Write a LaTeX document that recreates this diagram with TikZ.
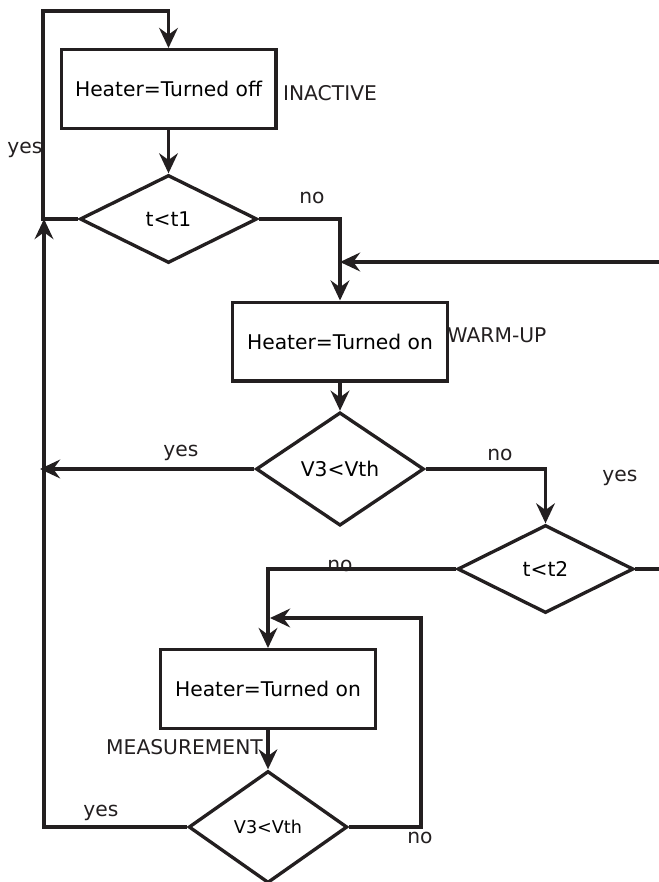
\documentclass[tikz,border=0pt]{standalone}
\usepackage{fontspec}
\setmainfont{DejaVu Sans}
\usetikzlibrary{shapes.geometric,arrows.meta}
\definecolor{ink}{RGB}{35,31,32}
\tikzset{
  proc/.style={draw=ink,line width=2.5pt,rectangle,minimum width=161pt,minimum height=59pt,inner sep=0pt},
  test/.style={draw=ink,line width=2.5pt,diamond,inner sep=0pt},
  arr/.style={draw=ink,line width=2.5pt,-{Stealth[length=15pt,width=14pt,inset=5pt]}},
  lbl/.style={text=ink,inner sep=0pt}
}
\begin{document}
\begin{tikzpicture}[x=0.75pt,y=-0.75pt,font=\fontsize{15.2}{18}\selectfont]
\clip (0,0) rectangle (659,882);

% boxes
\node[proc] (off) at (168.5,89) {Heater=Turned off};
\node[proc] (warm) at (340,341.5) {Heater=Turned on};
\node[proc] (meas) at (268,689) {Heater=Turned on};

% tests
\node[test,minimum width=133pt,minimum height=66pt] (t1) at (168.5,219) {t<t1};
\node[test,minimum width=126pt,minimum height=85pt] (v1) at (340,469) {V3<Vth};
\node[test,minimum width=132pt,minimum height=66pt] (t2) at (545.5,569) {t<t2};
\node[test,minimum width=119pt,minimum height=84pt,font=\fontsize{13.2}{16}\selectfont] (v2) at (268,827) {V3<Vth};

% state names
\node[lbl] (inactive) at (330,93) {INACTIVE};
\node[lbl] (warmup) at (497,335) {WARM-UP};
\node[lbl] (measure) at (184.5,747) {MEASUREMENT};

% turning points
\coordinate (topleft) at (43,11);
\coordinate (back1) at (340,262);
\coordinate (back0) at (44,219);
\coordinate (left1) at (40,469);
\coordinate (right1) at (680,569);
\coordinate (loopr) at (421,618);
\coordinate (back2) at (270,618);

% connectors
\draw[arr] (t1.west) -| (topleft) -| (off.north);
\draw[arr] (off.south) -- (t1.north);
\draw[arr] (t1.east) -| (warm.north);
\draw[arr] (t2.east) -- (right1) |- (back1);
\draw[arr] (warm.south) -- (v1.north);
\draw[arr] (v1.west) -- (left1);
\draw[arr] (v1.east) -| (t2.north);
\draw[arr] (t2.west) -| (meas.north);
\draw[arr] (meas.south) -- (v2.north);
\draw[arr] (v2.east) -| (loopr) -- (back2);
\draw[arr] (v2.west) -| (back0);

% answers
\node[lbl] (yes1) at (25,150) {yes};
\node[lbl] (no1) at (312,198) {no};
\node[lbl] (yes2) at (181,453) {yes};
\node[lbl] (no2) at (500,455) {no};
\node[lbl] (yes3) at (620,478) {yes};
\node[lbl] (no3) at (340,566) {no};
\node[lbl] (yes4) at (101,813) {yes};
\node[lbl] (no4) at (420,838) {no};
\end{tikzpicture}
\end{document}
